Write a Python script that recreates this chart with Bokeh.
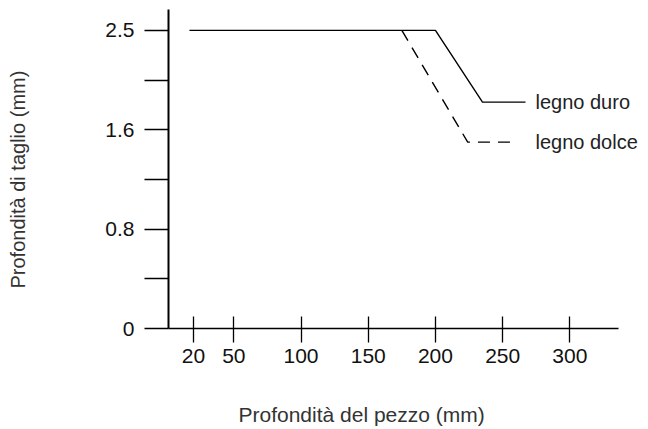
import numpy as np
from bokeh.plotting import figure
from bokeh.models import Range1d, FixedTicker, Label, Title
from bokeh.embed import file_html
from bokeh.resources import INLINE

# ---- data ----
x_ticks = [20, 50, 100, 150, 200, 250, 300]
x_axis_end = 336
y_ticks = [0, 0.8, 1.6, 2.5]
y_tick_labels = ["0", "0.8", "1.6", "2.5"]

duro_x = [17, 200, 235, 267]
duro_y = [2.5, 2.5, 1.85, 1.85]
dolce_x = [175, 224, 256]
dolce_y = [2.5, 1.5, 1.5]
series_names = ["legno duro", "legno dolce"]

x_title = "Profondità del pezzo (mm)"
y_title = "Profondità di taglio (mm)"

FONT = "Liberation Sans"

# the y axis of the reference is evenly spaced per tick (piecewise linear)
y_idx = list(range(len(y_ticks)))


def ypos(v):
    return np.interp(v, y_ticks, y_idx)


p = figure(width=648, height=429,
           x_range=Range1d(1.4, 358.5), y_range=Range1d(0, 3.21),
           output_backend="svg", toolbar_location=None,
           min_border_left=168, min_border_right=0,
           min_border_top=9, min_border_bottom=101)
p.xgrid.visible = False
p.ygrid.visible = False
p.outline_line_color = None
p.background_fill_color = "white"
p.border_fill_color = "white"

xa = p.xaxis[0]
xa.ticker = FixedTicker(ticks=x_ticks, minor_ticks=[])
xa.bounds = (1.4, x_axis_end)
xa.axis_line_width = 1.3
xa.axis_line_color = "black"
xa.major_tick_in = 12
xa.major_tick_out = 14
xa.major_tick_line_width = 1.3
xa.major_tick_line_color = "black"
xa.minor_tick_in = 0
xa.minor_tick_out = 0
xa.major_label_text_font = FONT
xa.major_label_text_font_size = "21px"
xa.major_label_text_color = "#111111"
xa.major_label_standoff = 6
# blank axis label used only as spacing before the title
xa.axis_label = " "
xa.axis_label_text_font_size = "1px"
xa.axis_label_standoff = 31

ya = p.yaxis[0]
minor = [(a + b) / 2 for a, b in zip(y_idx[:-1], y_idx[1:])]
ya.ticker = FixedTicker(ticks=y_idx, minor_ticks=minor)
ya.major_label_overrides = {i: s for i, s in zip(y_idx, y_tick_labels)}
ya.axis_line_width = 2
ya.axis_line_color = "black"
ya.major_tick_in = 0
ya.major_tick_out = 24
ya.minor_tick_in = 0
ya.minor_tick_out = 24
ya.major_tick_line_width = 1.5
ya.minor_tick_line_width = 1.5
ya.major_tick_line_color = "black"
ya.minor_tick_line_color = "black"
ya.major_label_text_font = FONT
ya.major_label_text_font_size = "21px"
ya.major_label_text_color = "#111111"
ya.major_label_standoff = 10
ya.axis_label = " "
ya.axis_label_text_font_size = "1px"
ya.axis_label_standoff = 70

p.line(duro_x, ypos(duro_y), line_color="black", line_width=1.4)
p.line(dolce_x, ypos(dolce_y), line_color="black", line_width=1.4,
       line_dash="12 8")

for name, ys in zip(series_names, [duro_y, dolce_y]):
    p.add_layout(Label(x=duro_x[-1], y=float(ypos(ys[-1])), x_offset=10,
                       text=name, text_baseline="middle", text_align="left",
                       text_font=FONT, text_font_size="20px",
                       text_color="#222222"))

p.add_layout(Title(text=x_title, align="left", offset=70, standoff=0,
                   text_font=FONT, text_font_size="21px",
                   text_font_style="normal", text_color="#333333"), "below")
p.add_layout(Title(text=y_title, align="left", offset=40, standoff=0,
                   text_font=FONT, text_font_size="20px",
                   text_font_style="normal", text_color="#333333"), "left")

open("out.html", "w").write(file_html(p, INLINE))
